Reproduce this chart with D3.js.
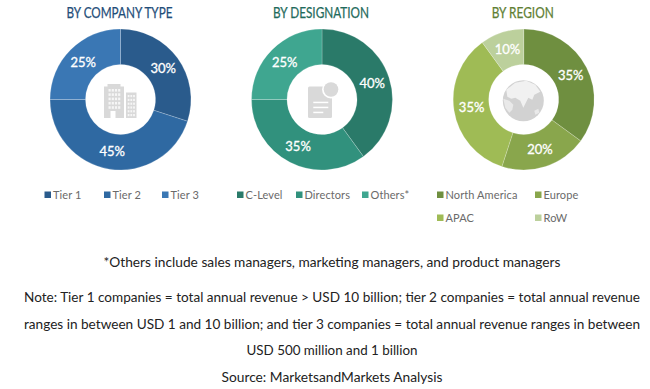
<!DOCTYPE html>
<html>
<head>
<meta charset="utf-8">
<script src="https://cdnjs.cloudflare.com/ajax/libs/d3/7.8.5/d3.min.js"></script>
<style>
  html, body { margin: 0; padding: 0; background: #fff; }
  text { font-family: Lato, "Open Sans", sans-serif; }
</style>
</head>
<body>
<div id="chart"></div>
<script>
// values
var companyLabels = ["Tier 1", "Tier 2", "Tier 3"];
var companyValues = [30, 45, 25];
var companyColors = ["#2a5b8c", "#2f69a2", "#3a77b4"];

var designationLabels = ["C-Level", "Directors", "Others*"];
var designationValues = [40, 35, 25];
var designationColors = ["#2a7a69", "#31917d", "#3fa690"];

var regionLabels = ["North America", "Europe", "APAC", "RoW"];
var regionValues = [35, 20, 35, 10];
var regionColors = ["#6f8f40", "#89a64c", "#9fbb55", "#bcd09c"];

var footLines = [
  "*Others include sales managers, marketing managers, and product managers",
  "Note: Tier 1 companies = total annual revenue > USD 10 billion; tier 2 companies = total annual revenue",
  "ranges in between USD 1 and 10 billion; and tier 3 companies = total annual revenue ranges in between",
  "USD 500 million and 1 billion",
  "Source: MarketsandMarkets Analysis"
];

var width = 650, height = 389;
var outerR = 70.5, innerR = 35, cy = 99.5;

var svg = d3.select("#chart").append("svg")
  .attr("width", width)
  .attr("height", height)
  .style("display", "block");

var pie = d3.pie().sort(null).value(function (d) { return d; });
var arc = d3.arc().innerRadius(innerR).outerRadius(outerR);

function drawDonut(cx, title, titleColor, titleWidth, values, colors) {
  svg.append("text")
    .attr("x", cx - 1)
    .attr("y", 17.5)
    .attr("text-anchor", "middle")
    .attr("font-size", 15)
    .attr("font-weight", 400)
    .attr("fill", titleColor)
    .attr("stroke", titleColor)
    .attr("stroke-width", 0.25)
    .attr("textLength", titleWidth)
    .attr("lengthAdjust", "spacingAndGlyphs")
    .text(title);

  var g = svg.append("g").attr("transform", "translate(" + cx + "," + cy + ")");

  g.selectAll("path")
    .data(pie(values))
    .join("path")
    .attr("d", arc)
    .attr("fill", function (d, i) { return colors[i]; })
    .attr("stroke", "#ffffff")
    .attr("stroke-opacity", 0.35)
    .attr("stroke-width", 0.6);

  g.selectAll("text")
    .data(pie(values))
    .join("text")
    .attr("transform", function (d) { return "translate(" + arc.centroid(d) + ")"; })
    .attr("dy", "0.36em")
    .attr("text-anchor", "middle")
    .attr("font-size", 13)
    .attr("font-weight", 400)
    .attr("fill", "#ffffff")
    .attr("stroke", "#ffffff")
    .attr("stroke-width", 0.3)
    .text(function (d) { return d.value + "%"; });

  return g;
}

function drawLegend(items, colors, xs, ys) {
  items.forEach(function (name, i) {
    svg.append("rect")
      .attr("x", xs[i])
      .attr("y", ys[i] - 3.5)
      .attr("width", 6.5)
      .attr("height", 6.5)
      .attr("fill", colors[i]);
    svg.append("text")
      .attr("x", xs[i] + 8.5)
      .attr("y", ys[i] + 4)
      .attr("font-size", 11)
      .attr("letter-spacing", 0.1)
      .attr("fill", "#6a6a6a")
      .text(name);
  });
}

var g1 = drawDonut(120.5, "BY COMPANY TYPE", "#1f4e79", 106, companyValues, companyColors);
var g2 = drawDonut(322, "BY DESIGNATION", "#1f6b5c", 96, designationValues, designationColors);
var g3 = drawDonut(523.7, "BY REGION", "#5f7f35", 62, regionValues, regionColors);

drawLegend(companyLabels, companyColors, [44.5, 104, 162], [195, 195, 195]);
drawLegend(designationLabels, designationColors, [237, 296, 362], [195, 195, 195]);
drawLegend(regionLabels, regionColors, [437, 535, 437, 535], [195, 195, 218, 218]);

// centre icons
var iconGrey = "#d9d9d9";

// buildings
var b = g1.append("g");
b.append("rect").attr("x", -16.5).attr("y", -13).attr("width", 20).attr("height", 31.5).attr("fill", iconGrey);
b.append("rect").attr("x", -13).attr("y", -15.5).attr("width", 13).attr("height", 3).attr("fill", iconGrey);
b.append("rect").attr("x", 5.5).attr("y", -7).attr("width", 10.5).attr("height", 25.5).attr("fill", iconGrey);
d3.range(5).forEach(function (r) {
  d3.range(4).forEach(function (c) {
    b.append("rect").attr("x", -12 + c * 3.2).attr("y", -10.5 + r * 4.3)
      .attr("width", 2.2).attr("height", 2.6).attr("fill", "#f6f6f6");
  });
});
d3.range(6).forEach(function (r) {
  d3.range(3).forEach(function (c) {
    b.append("rect").attr("x", 7.2 + c * 2.7).attr("y", -4.5 + r * 3.8)
      .attr("width", 1.8).attr("height", 2.2).attr("fill", "#f6f6f6");
  });
});
b.append("rect").attr("x", -10).attr("y", 11.5).attr("width", 5).attr("height", 7).attr("fill", "#ffffff");

// document with seal
var doc = g2.append("g");
doc.append("rect").attr("x", -14).attr("y", -13).attr("width", 24).attr("height", 31.5).attr("rx", 1.5).attr("fill", iconGrey);
doc.append("circle").attr("cx", 9).attr("cy", -10).attr("r", 9).attr("fill", "#ffffff");
doc.append("circle").attr("cx", 9).attr("cy", -10).attr("r", 7.3).attr("fill", iconGrey);
[[-8.7, 2.2, 15], [-8.7, 7.2, 15], [-8.7, 12.2, 10]].forEach(function (l) {
  doc.append("rect").attr("x", l[0]).attr("y", l[1]).attr("width", l[2]).attr("height", 1.5).attr("fill", "#ffffff");
});

// globe
var globe = g3.append("g").attr("transform", "translate(-0.4,1.2)");
globe.append("circle").attr("r", 20.5).attr("fill", "#d2d2d2");
globe.append("path")
  .attr("fill", "#f1f1f1")
  .attr("d", "M-17,-11 L-8,-18 L3,-20 L12,-16 L17,-9 L11,-6 L9,-1 L5,-3 L2,3 L0,7 L-3,0 L-8,-3 L-12,-2 L-16,-4 Z");
globe.append("path")
  .attr("fill", "#e9e9e9")
  .attr("d", "M-20,-2 L-14,0 L-10,4 L-11,9 L-14,12 L-18,7 Z");
globe.append("path")
  .attr("fill", "#e9e9e9")
  .attr("d", "M11,10 L15,8 L16,12 L12,14 Z");

// footnotes
var footY = [263, 298, 325, 351, 378];
var footLen = [457, 616, 616, 171, 221];
svg.append("g").selectAll("text")
  .data(footLines)
  .join("text")
  .attr("x", 332)
  .attr("y", function (d, i) { return footY[i] + 4; })
  .attr("text-anchor", "middle")
  .attr("font-size", 13.5)
  .attr("fill", "#222222")
  .attr("textLength", function (d, i) { return footLen[i]; })
  .attr("lengthAdjust", "spacingAndGlyphs")
  .text(function (d) { return d; });
</script>
</body>
</html>
